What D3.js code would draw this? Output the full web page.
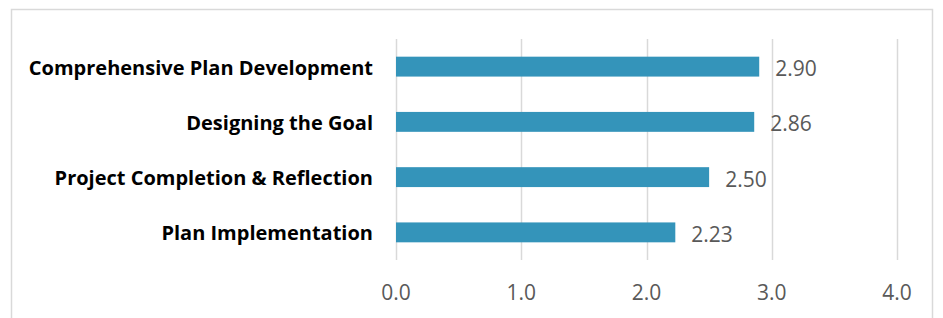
<!DOCTYPE html>
<html>
<head>
<meta charset="utf-8">
<script src="https://cdn.jsdelivr.net/npm/d3@7"></script>
<style>
  body { margin: 0; background: #fff; }
  text { font-family: "Open Sans", "Noto Sans", sans-serif; }
</style>
</head>
<body>
<svg id="chart"></svg>
<script>
(function() {

	var categories = ['Comprehensive Plan Development', 'Designing the Goal', 'Project Completion & Reflection', 'Plan Implementation'],
		values = [2.90, 2.86, 2.50, 2.23],
		ticks = [0, 1, 2, 3, 4];

	var width = 943,
		height = 318,
		left = 396,
		right = 897,
		top = 39,
		bottom = 260;

	var svg = d3.select('#chart')
		.attr('width', width)
		.attr('height', height);

	// rammen rundt diagrammet
	svg.append('path')
		.attr('d', 'M11.5,' + height + 'V9.5H932.5V' + height)
		.attr('fill', 'none')
		.attr('stroke', '#d9d9d9')
		.attr('stroke-width', 1.5);

	var x = d3.scaleLinear().domain([0, 4]).range([left, right]);
	var y = d3.scaleBand().domain(categories).range([top, bottom]).paddingInner(0.64).paddingOuter(0.32);

	svg.append('g').selectAll('line').data(ticks).enter()
		.append('line')
			.attr('x1', function(d) { return Math.round(x(d)) + 0.5; })
			.attr('x2', function(d) { return Math.round(x(d)) + 0.5; })
			.attr('y1', top)
			.attr('y2', bottom)
			.attr('stroke', '#d9d9d9')
			.attr('stroke-width', 1.5);

	svg.append('g').selectAll('text').data(ticks).enter()
		.append('text')
			.attr('x', function(d) { return x(d); })
			.attr('y', 300)
			.attr('text-anchor', 'middle')
			.attr('font-size', 21)
			.attr('fill', '#595959')
			.text(function(d) { return d.toFixed(1); });

	var data = categories.map(function(c, i) { return { name: c, value: values[i] }; });

	svg.append('g').selectAll('rect').data(data).enter()
		.append('rect')
			.attr('x', x(0))
			.attr('y', function(d) { return y(d.name); })
			.attr('width', function(d) { return x(d.value) - x(0); })
			.attr('height', y.bandwidth())
			.attr('fill', '#3494ba');

	svg.append('g').selectAll('text').data(data).enter()
		.append('text')
			.attr('x', function(d) { return x(d.value) + 16; })
			.attr('y', function(d) { return y(d.name) + y.bandwidth() / 2; })
			.attr('dy', '0.45em')
			.attr('font-size', 21)
			.attr('fill', '#595959')
			.text(function(d) { return d.value.toFixed(2); });

	svg.append('g').selectAll('text').data(data).enter()
		.append('text')
			.attr('x', 373)
			.attr('y', function(d) { return y(d.name) + y.bandwidth() / 2; })
			.attr('dy', '0.4em')
			.attr('text-anchor', 'end')
			.attr('font-size', 20)
			.attr('font-weight', 'bold')
			.attr('fill', '#000')
			.text(function(d) { return d.name; });

})();
</script>
</body>
</html>
